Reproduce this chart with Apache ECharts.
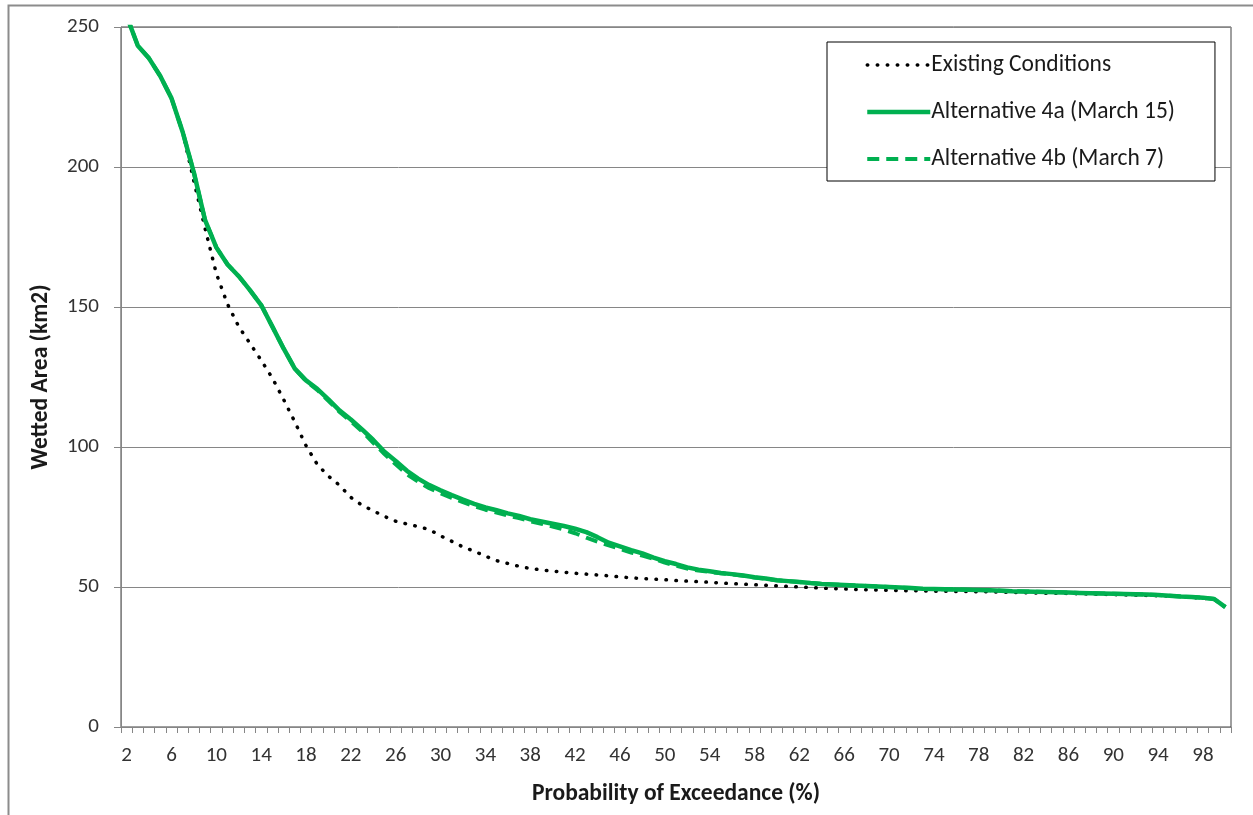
<!DOCTYPE html>
<html>
<head>
<meta charset="utf-8">
<script src="https://cdn.jsdelivr.net/npm/echarts@6/dist/echarts.min.js"></script>
<style>
html,body{margin:0;padding:0;background:#fff;}
#chart{width:1253px;height:815px;}
</style>
</head>
<body>
<div id="chart"></div>
<script>
// Probability of exceedance categories (%)
const categories = [];
for (let p = 2; p <= 100; p++) categories.push(String(p));

const existing = [
254, 243.3, 238.8, 232.5, 224.6, 212.5, 195, 178, 162, 151,
143, 137, 131, 124.6, 117, 109, 100.5, 93.8, 89.6, 86.3,
82, 79.2, 77.2, 75.2, 73.5, 72.5, 71.6, 70.5, 68.3, 66.3,
64.3, 62.8, 61, 59.4, 58.4, 57.4, 56.6, 56.1, 55.7, 55.3,
54.9, 54.6, 54.3, 54.0, 53.6, 53.3, 53.0, 52.8, 52.6, 52.3,
52.1, 51.9, 51.7, 51.4, 51.2, 51.0, 50.8, 50.6, 50.4, 50.2,
50.0, 49.8, 49.6, 49.4, 49.3, 49.1, 49.0, 48.9, 48.8, 48.7,
48.7, 48.6, 48.5, 48.5, 48.4, 48.4, 48.3, 48.3, 48.2, 48.1,
48.0, 47.9, 47.8, 47.8, 47.7, 47.6, 47.5, 47.4, 47.3, 47.2,
47.1, 47.0, 46.9, 46.8, 46.6, 46.3, 46.0, 45.6, 42.8
];

const alt4a = [
254, 243.3, 238.8, 232.5, 224.6, 212.5, 198, 181, 171.3, 165.2,
161, 156, 150.7, 143, 135.2, 128, 123.8, 120.8, 117, 113,
109.8, 106.3, 102.5, 98.3, 95, 91.5, 88.7, 86.4, 84.5, 82.8,
81.2, 79.7, 78.4, 77.4, 76.3, 75.4, 74.2, 73.4, 72.6, 71.8,
70.8, 69.6, 67.8, 65.8, 64.5, 63.2, 62, 60.5, 59.2, 58.2,
57, 56.2, 55.6, 55, 54.6, 54.1, 53.5, 53, 52.4, 52.1,
51.8, 51.4, 51.1, 50.9, 50.7, 50.5, 50.4, 50.2, 50.0, 49.8,
49.6, 49.4, 49.3, 49.2, 49.1, 49.0, 48.9, 48.8, 48.7, 48.5,
48.4, 48.3, 48.2, 48.1, 48.0, 47.9, 47.8, 47.7, 47.6, 47.5,
47.4, 47.3, 47.1, 46.9, 46.6, 46.4, 46.2, 45.7, 42.8
];

const alt4b = [
254, 243.3, 238.8, 232.5, 224.6, 212.5, 198, 181, 171.3, 165.2,
161, 156, 150.7, 143, 135.2, 128, 123.6, 120.4, 116.5, 112.5,
109.2, 105.6, 101.5, 97.5, 93.8, 90.3, 87.6, 85.3, 83.5, 81.8,
80.3, 78.9, 77.6, 76.6, 75.5, 74.6, 73.5, 72.6, 71.6, 70.5,
69.2, 67.6, 66.2, 64.9, 63.6, 62.3, 61.2, 60.1, 58.7, 57.6,
56.6, 55.9, 55.4, 54.9, 54.5, 54.0, 53.4, 52.9, 52.4, 52.1,
51.8, 51.4, 51.1, 50.9, 50.7, 50.5, 50.4, 50.2, 50.0, 49.8,
49.6, 49.4, 49.3, 49.2, 49.1, 49.0, 48.9, 48.8, 48.7, 48.5,
48.4, 48.3, 48.2, 48.1, 48.0, 47.9, 47.8, 47.7, 47.6, 47.5,
47.4, 47.3, 47.1, 46.9, 46.6, 46.4, 46.2, 45.7, 42.8
];

const seriesNames = ['Existing Conditions', 'Alternative 4a (March 15)', 'Alternative 4b (March 7)'];
const yTicks = [0, 50, 100, 150, 200, 250];

const FONT = 'Carlito, Lato, "Open Sans", sans-serif';
const GREEN = '#00B050';
const DOT = {color: '#000', width: 3.5, type: [0.5, 9.5], cap: 'round'};
const SOLID = {color: GREEN, width: 4.5, type: 'solid'};
const DASH = {color: GREEN, width: 4, type: [12, 7]};

const chart = echarts.init(document.getElementById('chart'), null, {renderer: 'canvas'});
chart.setOption({
  animation: false,
  backgroundColor: '#ffffff',
  graphic: [{
    type: 'rect',
    shape: {x: 8.5, y: 5.5, width: 1300, height: 900},
    style: {fill: 'none', stroke: '#8c8c8c', lineWidth: 2},
    silent: true, z: -10
  }],
  grid: {
    left: 121, right: 22, top: 27, bottom: 88,
    show: true, borderColor: '#404040', borderWidth: 1,
    containLabel: false
  },
  legend: {
    orient: 'vertical',
    left: 827, top: 42,
    padding: [11, 40, 10, 38],
    itemWidth: 63, itemHeight: 14, itemGap: 23,
    borderColor: '#000', borderWidth: 1,
    backgroundColor: '#fff',
    itemStyle: {opacity: 0},
    textStyle: {fontFamily: FONT, fontSize: 23.5, color: '#1a1a1a', padding: [0, 0, 0, -4]},
    data: [
      {name: seriesNames[0], lineStyle: DOT, itemStyle: {opacity: 0}},
      {name: seriesNames[1], lineStyle: SOLID, itemStyle: {opacity: 0}},
      {name: seriesNames[2], lineStyle: DASH, itemStyle: {opacity: 0}}
    ]
  },
  xAxis: {
    type: 'category',
    data: categories,
    boundaryGap: true,
    name: 'Probability of Exceedance (%)',
    nameLocation: 'middle',
    nameGap: 55,
    nameTextStyle: {fontFamily: FONT, fontSize: 23.5, fontWeight: 'bold', color: '#1a1a1a'},
    axisLine: {lineStyle: {color: '#868686', width: 1}},
    axisTick: {show: true, interval: 0, length: 6, alignWithLabel: false, lineStyle: {color: '#868686'}},
    axisLabel: {interval: 3, margin: 18, fontFamily: FONT, fontSize: 21, color: '#333333'},
    splitLine: {show: false}
  },
  yAxis: {
    type: 'value',
    min: yTicks[0], max: yTicks[yTicks.length - 1], interval: 50,
    name: 'Wetted Area (km2)',
    nameLocation: 'middle',
    nameGap: 68,
    nameTextStyle: {fontFamily: FONT, fontSize: 23.5, fontWeight: 'bold', color: '#1a1a1a'},
    axisLine: {show: true, lineStyle: {color: '#868686', width: 1}},
    axisTick: {show: true, length: 7, lineStyle: {color: '#868686'}},
    axisLabel: {margin: 22, fontFamily: FONT, fontSize: 21, color: '#333333'},
    splitLine: {show: true, lineStyle: {color: '#868686', width: 1}}
  },
  series: [
    {
      name: seriesNames[0], type: 'line', data: existing,
      symbol: 'none', smooth: false, clip: true,
      lineStyle: DOT, itemStyle: {color: '#000'}, z: 2
    },
    {
      name: seriesNames[1], type: 'line', data: alt4a,
      symbol: 'none', smooth: false, clip: true,
      lineStyle: SOLID, itemStyle: {color: GREEN}, z: 3
    },
    {
      name: seriesNames[2], type: 'line', data: alt4b,
      symbol: 'none', smooth: false, clip: true,
      lineStyle: DASH, itemStyle: {color: GREEN}, z: 4
    }
  ]
});
</script>
</body>
</html>
